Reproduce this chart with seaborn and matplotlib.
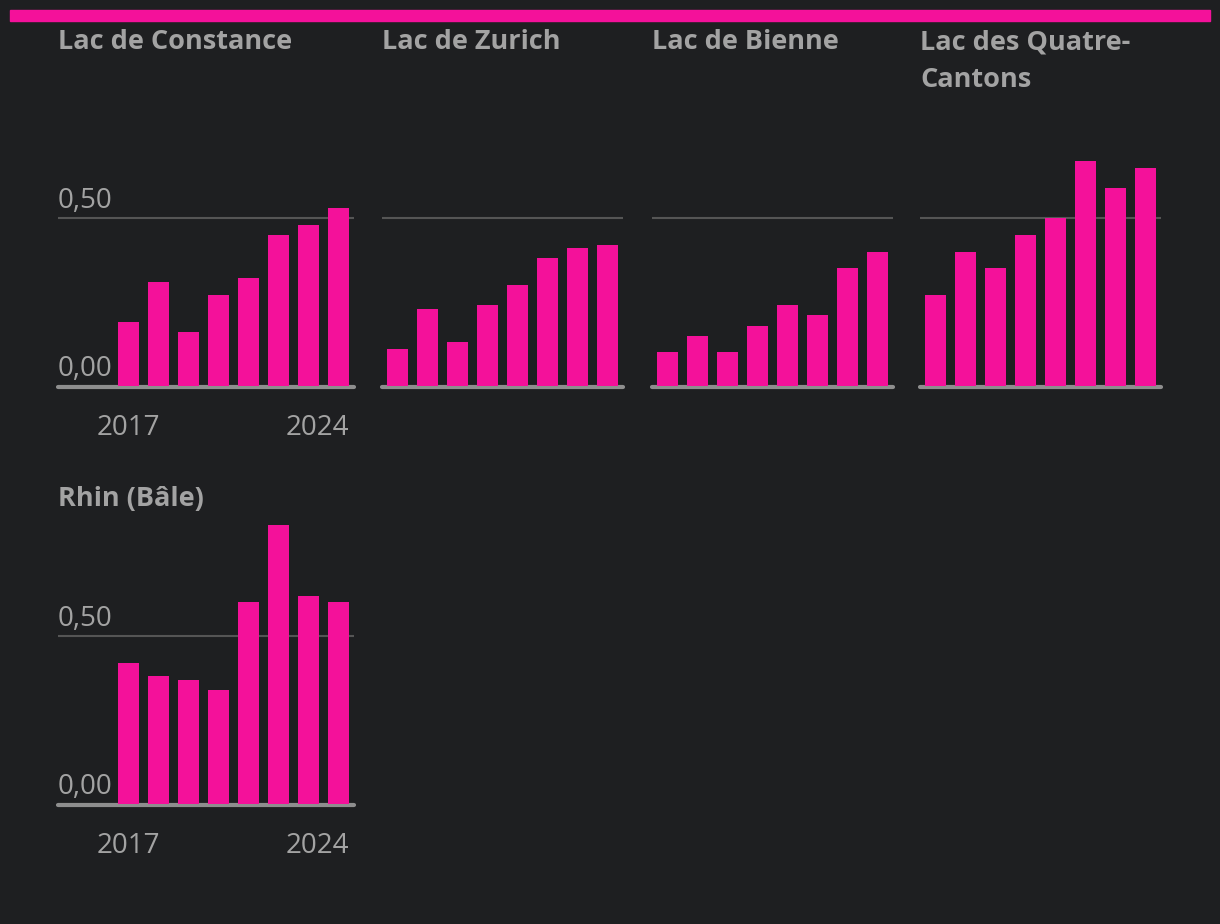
import numpy as np
import pandas as pd
import matplotlib
matplotlib.use("Agg")
import matplotlib.pyplot as plt
import seaborn as sns

# data
years = [2017, 2018, 2019, 2020, 2021, 2022, 2023, 2024]
lakes = ["Lac de Constance", "Lac de Zurich", "Lac de Bienne",
         "Lac des Quatre-Cantons", "Rhin (Bâle)"]
titles = ["Lac de Constance", "Lac de Zurich", "Lac de Bienne",
          "Lac des Quatre-\nCantons", "Rhin (Bâle)"]
constance = [0.19, 0.31, 0.16, 0.27, 0.32, 0.45, 0.48, 0.53]
zurich = [0.11, 0.23, 0.13, 0.24, 0.30, 0.38, 0.41, 0.42]
bienne = [0.10, 0.15, 0.10, 0.18, 0.24, 0.21, 0.35, 0.40]
quatre_cantons = [0.27, 0.40, 0.35, 0.45, 0.50, 0.67, 0.59, 0.65]
rhin = [0.42, 0.38, 0.37, 0.34, 0.60, 0.83, 0.62, 0.60]
yticks = [0.0, 0.5]
ytick_labels = ["0,00", "0,50"]

series = [constance, zurich, bienne, quatre_cantons, rhin]
df = pd.DataFrame({
    "lake": np.repeat(lakes, len(years)),
    "year": years * len(lakes),
    "value": np.concatenate(series),
})

BG = "#1e1f21"
PINK = "#f4119a"
TEXT = "#a3a3a3"
W, H = 1220, 924

sns.set_theme(style="dark")
plt.rcParams["font.family"] = ["Open Sans", "DejaVu Sans"]

fig = plt.figure(figsize=(W / 100, H / 100), dpi=100, facecolor=BG)

# top accent bar
fig.patches.append(plt.Rectangle((10 / W, 1 - 21 / H), 1200 / W, 11 / H,
                                 transform=fig.transFigure, color=PINK,
                                 zorder=0))

col_left = [58, 382, 652, 920]
row_zero = [386, 804]
title_top = [29, 486]
unit = 30.0          # px per bar slot
ymax = 0.83
px_per_val = 336.0
bar_w = 0.7

for i, lake in enumerate(lakes):
    row, col = divmod(i, 4)
    first = col == 0
    x0, x1 = (-2.35 if first else -0.52), 7.52
    left = col_left[col]
    width = (x1 - x0) * unit
    height = ymax * px_per_val
    bottom = H - row_zero[row]
    ax = fig.add_axes([left / W, bottom / H, width / W, height / H])
    ax.set_facecolor("none")

    sub = df[df["lake"] == lake]
    sns.barplot(data=sub, x="year", y="value", color=PINK, width=bar_w,
                saturation=1, linewidth=0, edgecolor="none", ax=ax, zorder=3)

    ax.axhline(0.5, color="#555555", lw=1.5, zorder=1)
    ax.axhline(-0.004, color="#8e8e8e", lw=3, zorder=2, clip_on=False)
    ax.set_xlim(x0, x1)
    ax.set_ylim(0, ymax)
    for s in ax.spines.values():
        s.set_visible(False)
    ax.set_xlabel("")
    ax.set_ylabel("")
    ax.set_yticks([])
    ax.grid(False)

    if first:
        for v, lab in zip(yticks, ytick_labels):
            ax.annotate(lab, xy=(x0, v), xytext=(0, 2), textcoords="offset points",
                        ha="left", va="bottom", fontsize=20, color=TEXT)
        n = len(years)
        ax.set_xticks([0, n - 1 + bar_w / 2], [str(years[0]), str(years[-1])])
        ax.tick_params(axis="x", length=0, pad=20, labelsize=20,
                       labelcolor=TEXT)
        ax.get_xticklabels()[1].set_ha("right")
    else:
        ax.set_xticks([])

    fig.text(left / W, 1 - title_top[row] / H, titles[i],
             ha="left", va="top", fontsize=19.5, fontweight="bold",
             color=TEXT, linespacing=1.6)

fig.savefig("out.png", dpi=100, facecolor=BG)
